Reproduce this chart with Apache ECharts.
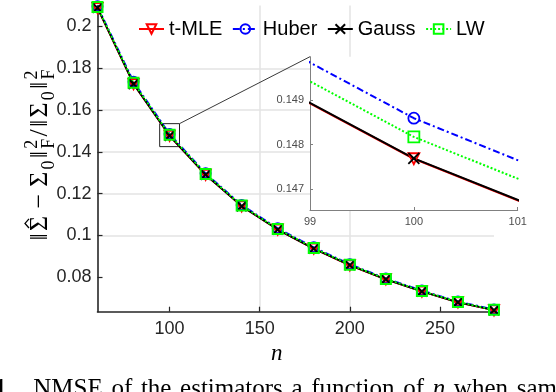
<!DOCTYPE html>
<html><head><meta charset="utf-8">
<script src="https://cdn.jsdelivr.net/npm/echarts@6/dist/echarts.min.js"></script>
<style>html,body{margin:0;padding:0;background:#fff;overflow:hidden}#c{width:556px;height:392px}</style>
</head><body><div id="c"></div>
<script>
// ---- data ----
const nValues = [60, 80, 100, 120, 140, 160, 180, 200, 220, 240, 260, 280];
const tMLE  = [0.2088, 0.17250, 0.14768, 0.12903, 0.1140, 0.1028, 0.0937, 0.0857, 0.0790, 0.0732, 0.0680, 0.0642];
const huber = [0.2097, 0.17357, 0.14859, 0.12974, 0.1146, 0.1034, 0.0943, 0.0862, 0.0794, 0.0736, 0.0684, 0.0646];
const gauss = [0.2089, 0.17251, 0.14769, 0.12904, 0.1140, 0.1028, 0.0937, 0.0858, 0.0790, 0.0732, 0.0680, 0.0642];
const lw    = [0.2093, 0.17311, 0.14817, 0.12944, 0.1143, 0.1031, 0.0940, 0.0860, 0.0792, 0.0734, 0.0682, 0.0644];
const seriesNames = ['t-MLE', 'Huber', 'Gauss', 'LW'];
const mainXTicks = [100, 150, 200, 250];
const mainYTicks = [0.08, 0.1, 0.12, 0.14, 0.16, 0.18, 0.2];
const insetXTicks = [99, 100, 101];
const insetYTicks = [0.147, 0.148, 0.149];
const mainXRange = [60, 280];
const mainYRange = [0.0635, 0.21];
const insetXRange = [99, 101];
const insetYRange = [0.14653, 0.14997];
const zoomBoxX = [94.5, 105.5];
const zoomBoxY = [0.1425, 0.1535];
const captionWords = ['NMSE', 'of', 'the', 'estimators', 'a', 'function', 'of', 'n', 'when', 'samples'];

const sansFont = '"Liberation Sans", Arial, Helvetica, sans-serif';
const serifFont = '"Liberation Serif", "DejaVu Serif", serif';
const axisColor = '#262626';

const styles = {
  't-MLE': {color: '#ff0000', symbol: 'triangle', rotate: 180, dash: 'solid'},
  'Huber': {color: '#0000ff', symbol: 'circle', rotate: 0, dash: [7, 3, 2, 3]},
  'Gauss': {color: '#000000', symbol: 'path://M0,0L10,10M10,0L0,10', rotate: 0, dash: 'solid'},
  'LW':    {color: '#00ff00', symbol: 'rect', rotate: 0, dash: [2, 2]}
};
const values = {'t-MLE': tMLE, 'Huber': huber, 'Gauss': gauss, 'LW': lw};

function makeSeries(name, gridIdx) {
  const st = styles[name];
  const s = {
    name: name,
    type: 'line',
    xAxisIndex: gridIdx, yAxisIndex: gridIdx,
    data: nValues.map((n, i) => [n, values[name][i]]),
    symbol: st.symbol,
    symbolRotate: st.rotate,
    symbolSize: gridIdx === 0 ? 10 : 11,
    showAllSymbol: true,
    clip: true,
    z: gridIdx === 0 ? 2 : 8,
    itemStyle: {color: 'rgba(0,0,0,0)', borderColor: st.color, borderWidth: gridIdx === 0 ? 2 : 1.8},
    lineStyle: {color: st.color, width: gridIdx === 0 ? 1.8 : 2, type: st.dash},
    emphasis: {disabled: true},
    animation: false
  };
  if (gridIdx === 0 && name === 'Gauss') {
    s.markArea = {
      silent: true,
      label: {show: false},
      itemStyle: {color: 'rgba(0,0,0,0)', borderColor: '#222', borderWidth: 1},
      data: [[{coord: [zoomBoxX[0], zoomBoxY[0]]}, {coord: [zoomBoxX[1], zoomBoxY[1]]}]]
    };
  }
  return s;
}

const chart = echarts.init(document.getElementById('c'), null, {renderer: 'canvas'});

const option = {
  animation: false,
  backgroundColor: '#ffffff',
  grid: [
    {left: 97.5, top: 5.6, width: 396.5, height: 306.1, show: false},
    {left: 310, top: 56.7, width: 207.7, height: 153.3, show: true, backgroundColor: '#ffffff', borderWidth: 0, z: 5}
  ],
  legend: {
    data: seriesNames,
    left: 133, top: 14,
    itemWidth: 25, itemHeight: 12, itemGap: 9.5,
    textStyle: {fontSize: 20, fontFamily: sansFont, color: '#000'},
    selectedMode: false
  },
  xAxis: [
    {
      type: 'value', gridIndex: 0, min: mainXRange[0], max: mainXRange[1], splitNumber: 5,
      axisLine: {lineStyle: {color: axisColor, width: 1.6}},
      axisTick: {inside: true, length: 5, lineStyle: {color: axisColor, width: 1.2}, customValues: mainXTicks},
      axisLabel: {customValues: mainXTicks, fontSize: 18, color: axisColor, fontFamily: sansFont, margin: 8},
      splitLine: {show: true, showMinLine: false, showMaxLine: false, lineStyle: {color: '#e3e3e3', width: 1.5}},
      name: 'n', nameLocation: 'middle', nameGap: 24,
      nameTextStyle: {fontFamily: serifFont, fontStyle: 'italic', fontSize: 23, color: '#000', padding: [0, 38, 0, 0]}
    },
    {
      type: 'value', gridIndex: 1, min: insetXRange[0], max: insetXRange[1], interval: 1, z: 6,
      axisLine: {lineStyle: {color: '#808080', width: 1}},
      axisTick: {inside: true, length: 3, lineStyle: {color: '#808080'}},
      axisLabel: {fontSize: 11, color: '#4d4d4d', fontFamily: sansFont, margin: 6},
      splitLine: {show: false}
    }
  ],
  yAxis: [
    {
      type: 'value', gridIndex: 0, min: mainYRange[0], max: mainYRange[1], splitNumber: 7,
      axisLine: {show: true, lineStyle: {color: axisColor, width: 1.6}},
      axisTick: {show: true, inside: true, length: 5, lineStyle: {color: axisColor, width: 1.2}, customValues: mainYTicks},
      axisLabel: {customValues: mainYTicks, fontSize: 18, color: axisColor, fontFamily: sansFont, margin: 6},
      splitLine: {show: true, showMinLine: false, showMaxLine: false, lineStyle: {color: '#e3e3e3', width: 1.5}}
    },
    {
      type: 'value', gridIndex: 1, min: insetYRange[0], max: insetYRange[1], splitNumber: 3, z: 6,
      axisLine: {show: true, lineStyle: {color: '#808080', width: 1}},
      axisTick: {show: true, inside: true, length: 3, lineStyle: {color: '#808080'}, customValues: insetYTicks},
      axisLabel: {customValues: insetYTicks, fontSize: 11, color: '#4d4d4d', fontFamily: sansFont, margin: 6},
      splitLine: {show: false}
    }
  ],
  series: seriesNames.map(n => makeSeries(n, 0)).concat(seriesNames.map(n => makeSeries(n, 1)))
};
chart.setOption(option);

// ---- measured text helpers ----
const mctx = document.createElement('canvas').getContext('2d');
function measure(t, size, style, weight) {
  mctx.font = (style || 'normal') + ' ' + (weight || 'normal') + ' ' + size + 'px ' + serifFont;
  return mctx.measureText(t).width;
}
function tx(t, x, baseY, size, extra) {
  return {
    type: 'text', x: x, y: baseY - 0.34 * size, silent: true,
    style: Object.assign({text: t, fontSize: size, fontFamily: serifFont, fill: '#000', align: 'left', verticalAlign: 'middle'}, extra || {})
  };
}

// y-axis label ||Σ̂ − Σ0||²_F / ||Σ0||²_F
function buildYLabel() {
  const big = 26, small = 18, supDy = -11, subDy = 6, track = 2.2;
  const parts = [['‖', big, 0], ['Σ', big, 0, 'hat'], ['GAP', 5], ['−', big, 0], ['GAP', 5], ['Σ', big, 0], ['0', small, subDy], ['‖', big, 0], ['SS'],
                 ['/', big, 0], ['‖', big, 0], ['Σ', big, 0], ['0', small, subDy], ['‖', big, 0], ['SS']];
  let x = 0; const ch = [];
  for (const p of parts) {
    if (p[0] === 'GAP') { x += p[1]; continue; }
    if (p[0] === 'SS') {
      const w = Math.max(measure('2', small), measure('F', small));
      ch.push(tx('2', x, supDy, small));
      ch.push(tx('F', x, subDy, small));
      x += w + track;
    } else {
      const w = measure(p[0], p[1]);
      ch.push(tx(p[0], x, p[2], p[1]));
      if (p[3] === 'hat') {
        ch.push({type: 'polyline', silent: true, shape: {points: [[x + 3, -20], [x + w / 2, -24], [x + w - 3, -20]]},
                 style: {stroke: '#000', lineWidth: 1.3, fill: null}});
      }
      x += w + track;
    }
  }
  return {children: ch, width: x - track};
}
const yl = buildYLabel();

// caption: justified line, words spread between the measured start and end
const capSize = 25, capBase = 398, capStart = 33.3, capEndOfWhen = 508;
const capParts = [tx('1.', -6, capBase, capSize, {fontWeight: 'bold'})];
const wWidths = captionWords.map(w => measure(w, capSize, w === 'n' ? 'italic' : 'normal'));
const lastJ = captionWords.indexOf('when');
let natural = 0; for (let i = 0; i <= lastJ; i++) natural += wWidths[i];
const gap = (capEndOfWhen - capStart - natural) / lastJ;
let cx = capStart;
captionWords.forEach((w, i) => {
  capParts.push(tx(w, cx, capBase, capSize, w === 'n' ? {fontStyle: 'italic'} : {}));
  cx += wWidths[i] + gap;
});

const p1 = chart.convertToPixel({gridIndex: 0}, [zoomBoxX[1], zoomBoxY[1]]);
const p2 = chart.convertToPixel({gridIndex: 1}, [insetXRange[0], insetYRange[1]]);

chart.setOption({
  graphic: [
    {type: 'line', z: 4, silent: true, shape: {x1: p1[0], y1: p1[1], x2: p2[0], y2: p2[1]}, style: {stroke: '#222', lineWidth: 0.9}},
    {type: 'group', x: 49, y: 155 + yl.width / 2, rotation: Math.PI / 2, children: yl.children},
    {type: 'group', x: 0, y: 0, children: capParts}
  ]
});
</script></body></html>
